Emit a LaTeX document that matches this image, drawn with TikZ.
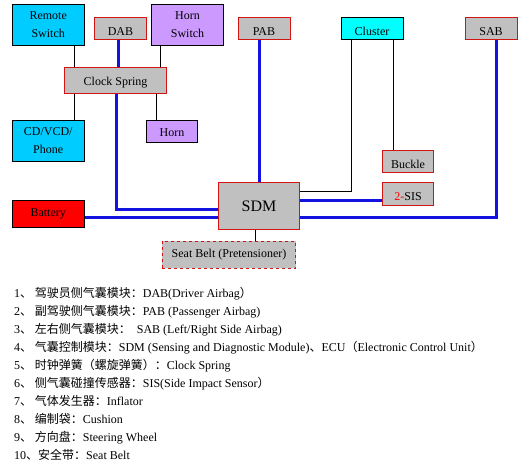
\documentclass[tikz,border=0pt]{standalone}
\usepackage{fontspec}
\setmainfont{Liberation Serif}
\newfontfamily\cjk{Noto Sans CJK SC}
\definecolor{wire}{RGB}{18,18,225}
\definecolor{boxgray}{RGB}{192,192,192}
\definecolor{cyanA}{RGB}{0,204,255}
\definecolor{cyanB}{RGB}{0,255,255}
\definecolor{lilac}{RGB}{204,153,255}
\definecolor{redline}{RGB}{210,20,20}
\begin{document}
\begin{tikzpicture}[x=1pt,y=-1pt,
  base/.style={inner sep=0pt,font=\fontsize{12}{18}\selectfont,align=center,line width=0.9pt},
  graybox/.style={base,draw=redline,fill=boxgray},
  cyanbox/.style={base,draw=black,fill=cyanA},
  lilacbox/.style={base,draw=black,fill=lilac},
  lowtext/.style={text height=14pt,text depth=0pt},
  midtext/.style={text height=11pt,text depth=0pt},
  bluewire/.style={draw=wire,line width=3pt},
  thinwire/.style={draw=black,line width=0.9pt},
  listitem/.style={anchor=west,inner sep=0pt,font=\fontsize{12}{14}\selectfont}]
\useasboundingbox (0,0) rectangle (524,465);
% boxes
\node[cyanbox,minimum width=71.7pt,minimum height=40.7pt] (remote) at (48.2,24.7) {Remote\\Switch};
\node[graybox,lowtext,minimum width=52.4pt,minimum height=22pt] (dab) at (120.5,28.3) {DAB};
\node[lilacbox,minimum width=71.6pt,minimum height=40.7pt] (hornsw) at (187.5,24.7) {Horn\\Switch};
\node[graybox,lowtext,minimum width=52pt,minimum height=22pt] (pab) at (264,28.3) {PAB};
\node[base,lowtext,draw=black,fill=cyanB,minimum width=62pt,minimum height=22pt] (cluster) at (372,28.3) {Cluster};
\node[graybox,lowtext,minimum width=52pt,minimum height=22pt] (sab) at (491,28.3) {SAB};
\node[graybox,midtext,minimum width=102.4pt,minimum height=26pt] (cs) at (115.5,80.3) {Clock Spring};
\node[cyanbox,minimum width=71.7pt,minimum height=40.7pt] (cd) at (48.2,141) {CD/VCD/\\Phone};
\node[lilacbox,midtext,minimum width=50.6pt,minimum height=21.6pt] (horn) at (172,131.5) {Horn};
\node[graybox,lowtext,minimum width=51.7pt,minimum height=22.3pt] (buckle) at (408,161.2) {Buckle};
\node[graybox,minimum width=81.7pt,minimum height=46.5pt,font=\fontsize{16}{18}\selectfont] (sdm) at (259,206) {SDM};
\node[graybox,lowtext,minimum width=51.7pt,minimum height=22.7pt] (sis) at (408,193.7) {\textcolor{red}{2-}SIS};
\node[base,draw=black,fill=red,minimum width=71.7pt,minimum height=27.3pt] (battery) at (48.2,213.7) {Battery};
\node[graybox,dashed,minimum width=133.4pt,minimum height=27.3pt] (seat) at (229,254.7) {Seat Belt (Pretensioner)};
% helper coordinates
\coordinate (xa) at (74,0);
\coordinate (xb) at (160.7,0);
\coordinate (xc) at (156,0);
\coordinate (xd) at (118.3,0);
\coordinate (xe) at (116.5,0);
\coordinate (xf) at (259,0);
\coordinate (xg) at (351.3,0);
\coordinate (xh) at (393.3,0);
\coordinate (xi) at (496,0);
\coordinate (xj) at (255,0);
\coordinate (ya) at (0,209);
\coordinate (yb) at (0,191);
\coordinate (yc) at (0,200);
\coordinate (yd) at (0,217.7);
% thin wires
\draw[thinwire] (remote.south -| xa) -- (cs.north -| xa);
\draw[thinwire] (cs.south -| xa) -- (cd.north -| xa);
\draw[thinwire] (hornsw.south -| xb) -- (cs.north -| xb);
\draw[thinwire] (cs.south -| xc) -- (horn.north -| xc);
\draw[thinwire] (cluster.south -| xg) |- (sdm.east |- yb);
\draw[thinwire] (cluster.south -| xh) -- (buckle.north -| xh);
\draw[thinwire] (sdm.south -| xj) -- (seat.north -| xj);
% blue wires
\draw[bluewire] (dab.south -| xd) -- (cs.north -| xd);
\draw[bluewire] (cs.south -| xe) |- (sdm.west |- ya);
\draw[bluewire] (pab.south -| xf) -- (sdm.north -| xf);
\draw[bluewire] (sdm.east |- yc) -- (sis.west |- yc);
\draw[bluewire] (sdm.east |- yd) -| (sab.south -| xi);
\draw[bluewire] (battery.east |- yd) -- (sdm.west |- yd);
% list
\node[listitem] (l1) at (14,293.3) {1{\cjk 、 驾驶员侧气囊模块：}DAB(Driver Airbag{\cjk ）}};
\node[listitem] (l2) at (14,311.3) {2{\cjk 、 副驾驶侧气囊模块：}PAB (Passenger Airbag)};
\node[listitem] (l3) at (14,329.3) {3{\cjk 、 左右侧气囊模块：}\hspace{6pt}SAB (Left/Right Side Airbag)};
\node[listitem] (l4) at (14,347.3) {4{\cjk 、 气囊控制模块：}SDM (Sensing and Diagnostic Module){\cjk 、}ECU{\cjk （}Electronic Control Unit{\cjk ）}};
\node[listitem] (l5) at (14,365.3) {5{\cjk 、 时钟弹簧（螺旋弹簧）：}Clock Spring};
\node[listitem] (l6) at (14,383.3) {6{\cjk 、 侧气囊碰撞传感器：}SIS(Side Impact Sensor{\cjk ）}};
\node[listitem] (l7) at (14,401.3) {7{\cjk 、 气体发生器：}Inflator};
\node[listitem] (l8) at (14,419.3) {8{\cjk 、 编制袋：}Cushion};
\node[listitem] (l9) at (14,437.3) {9{\cjk 、 方向盘：}Steering Wheel};
\node[listitem] (l10) at (14,455.3) {10{\cjk 、安全带：}Seat Belt};
\end{tikzpicture}
\end{document}
